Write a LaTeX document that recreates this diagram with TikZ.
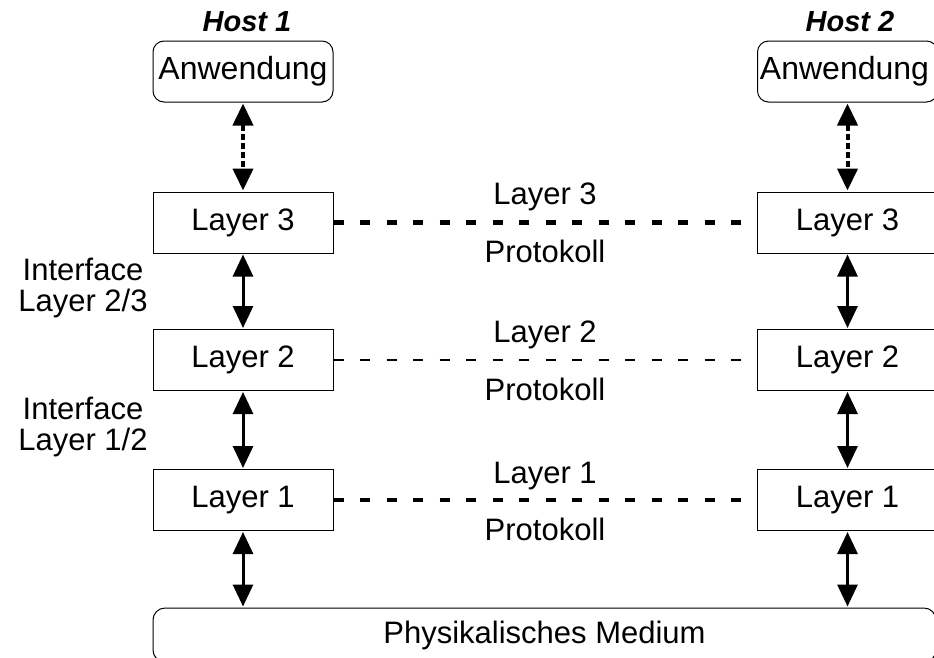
\documentclass[tikz,border=0pt]{standalone}
\usepackage{fontspec}
\setmainfont{Liberation Sans}
\usetikzlibrary{arrows.meta}
\begin{document}
\begin{tikzpicture}[x=1pt,y=-1pt,
  txt/.style={font=\fontsize{31}{36}\selectfont, inner sep=0pt},
  twoline/.style={font=\fontsize{31}{30.5}\selectfont, inner sep=0pt, align=center},
  layerbox/.style={draw, line width=1pt, minimum width=180pt, minimum height=61pt, inner sep=0pt, font=\fontsize{31}{36}\selectfont},
  appbox/.style={draw, line width=1pt, rounded corners=11pt, minimum width=180pt, minimum height=61pt, inner sep=0pt, font=\fontsize{32}{38}\selectfont},
  hostlbl/.style={font=\fontsize{29}{32}\selectfont\bfseries\itshape, inner sep=0pt},
  biarrow/.style={line width=3pt, {Triangle[width=20pt,length=22pt]}-{Triangle[width=20pt,length=22pt]}, shorten <=1pt, shorten >=1pt},
  dotarrow/.style={biarrow, line width=4pt, dash pattern=on 6pt off 3pt},
  thickdash/.style={line width=4.5pt, dash pattern=on 10pt off 16.5pt},
  thindash/.style={line width=2pt, dash pattern=on 10pt off 16.5pt}
]
\useasboundingbox (0,0) rectangle (934,657);

% Hosts
\node[hostlbl] (h1) at (247,22) {Host 1};
\node[hostlbl] (h2) at (850,22) {Host 2};

% Application boxes
\node[appbox] (a1) at (243,71.5) {Anwendung};
\node[appbox] (a2) at (847.5,71.5) {\hspace*{-6pt}Anwendung};

% Layer boxes
\node[layerbox] (l3a) at (243,222.5) {Layer 3};
\node[layerbox] (l3b) at (847.5,222.5) {Layer 3};
\node[layerbox] (l2a) at (243,360) {Layer 2};
\node[layerbox] (l2b) at (847.5,360) {Layer 2};
\node[layerbox] (l1a) at (243,500) {Layer 1};
\node[layerbox] (l1b) at (847.5,500) {Layer 1};

% Physical medium
\node[draw, line width=1pt, rounded corners=12pt, minimum width=783pt, minimum height=54pt, inner sep=0pt, font=\fontsize{31}{36}\selectfont] (med) at (544.5,635) {\raisebox{3pt}{Physikalisches Medium}};

% vertical arrows
\draw[dotarrow] (a1.south) -- (l3a.north);
\draw[dotarrow] (a2.south) -- (l3b.north);
\draw[biarrow] (l3a.south) -- (l2a.north);
\draw[biarrow] (l3b.south) -- (l2b.north);
\draw[biarrow] (l2a.south) -- (l1a.north);
\draw[biarrow] (l2b.south) -- (l1b.north);
\draw[biarrow] (l1a.south) -- (l1a.south |- med.north);
\draw[biarrow] (l1b.south) -- (l1b.south |- med.north);

% protocol lines
\draw[thickdash] (l3a.east) -- (l3b.west);
\draw[thindash] (l2a.east) -- (l2b.west);
\draw[thickdash] (l1a.east) -- (l1b.west);

% protocol labels
\node[txt] (p3a) at (545,197) {Layer 3};
\node[txt] (p3b) at (545,251) {Protokoll};
\node[txt] (p2a) at (545,335) {Layer 2};
\node[txt] (p2b) at (545,389) {Protokoll};
\node[txt] (p1a) at (545,476) {Layer 1};
\node[txt] (p1b) at (545,529) {Protokoll};

% interface labels
\node[twoline] (i23) at (83,288) {Interface\\Layer 2/3};
\node[twoline] (i12) at (83,427) {Interface\\Layer 1/2};
\end{tikzpicture}
\end{document}
